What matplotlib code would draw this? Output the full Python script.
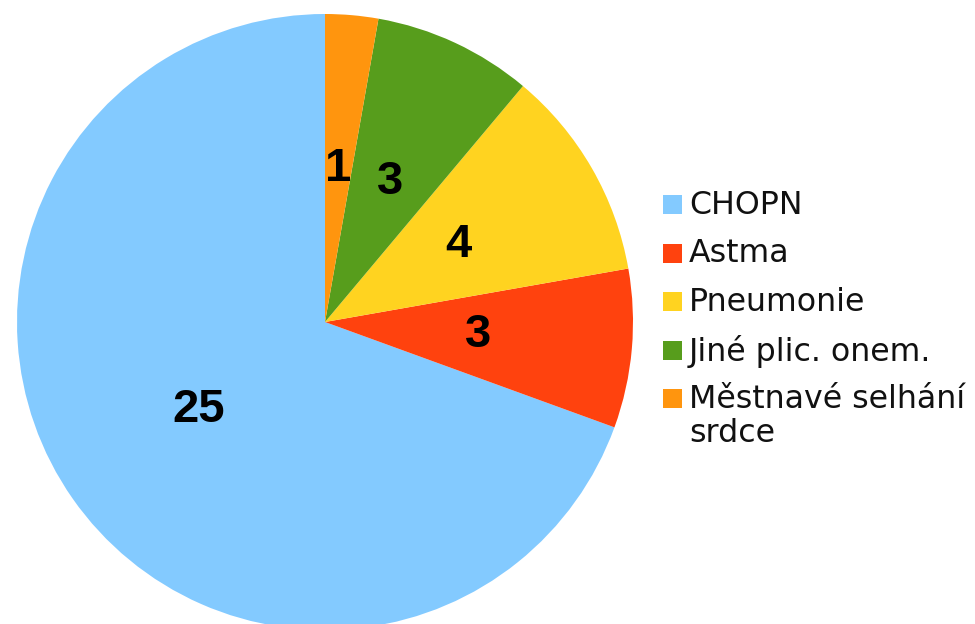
import matplotlib.pyplot as plt
from matplotlib.patches import Rectangle

labels = ['CHOPN', 'Astma', 'Pneumonie', 'Jiné plic. onem.', 'Městnavé selhání\nsrdce']
values = [25, 3, 4, 3, 1]
colors = ['#83caff', '#ff420e', '#ffd320', '#579d1c', '#ff950e']

plt.rcParams['font.family'] = ['Liberation Sans', 'DejaVu Sans']

fig = plt.figure(figsize=(9.75, 6.24), dpi=100)
ax = fig.add_axes([0, 0, 1, 1])

wedges, texts = ax.pie(values, colors=colors, labels=[str(v) for v in values],
                       labeldistance=0.5, startangle=90, counterclock=True,
                       center=(325, 302), radius=308, frame=True,
                       textprops={'fontsize': 34, 'fontweight': 'bold', 'color': 'black',
                                  'ha': 'center', 'va': 'center'})
ax.set_xlim(0, 975)
ax.set_ylim(0, 624)
ax.axis('off')

# legend drawn by hand so the square sits on the first line
y = 624 - 204
for lab, col in zip(labels, colors):
    ax.add_patch(Rectangle((663, y - 10), 19, 19, facecolor=col, edgecolor='none'))
    ax.text(689, y + 14, lab, fontsize=22.8, family='DejaVu Sans', va='top', ha='left',
            linespacing=1.12, color='#111111')
    y -= 48.5

fig.savefig('out.png', dpi=100)
